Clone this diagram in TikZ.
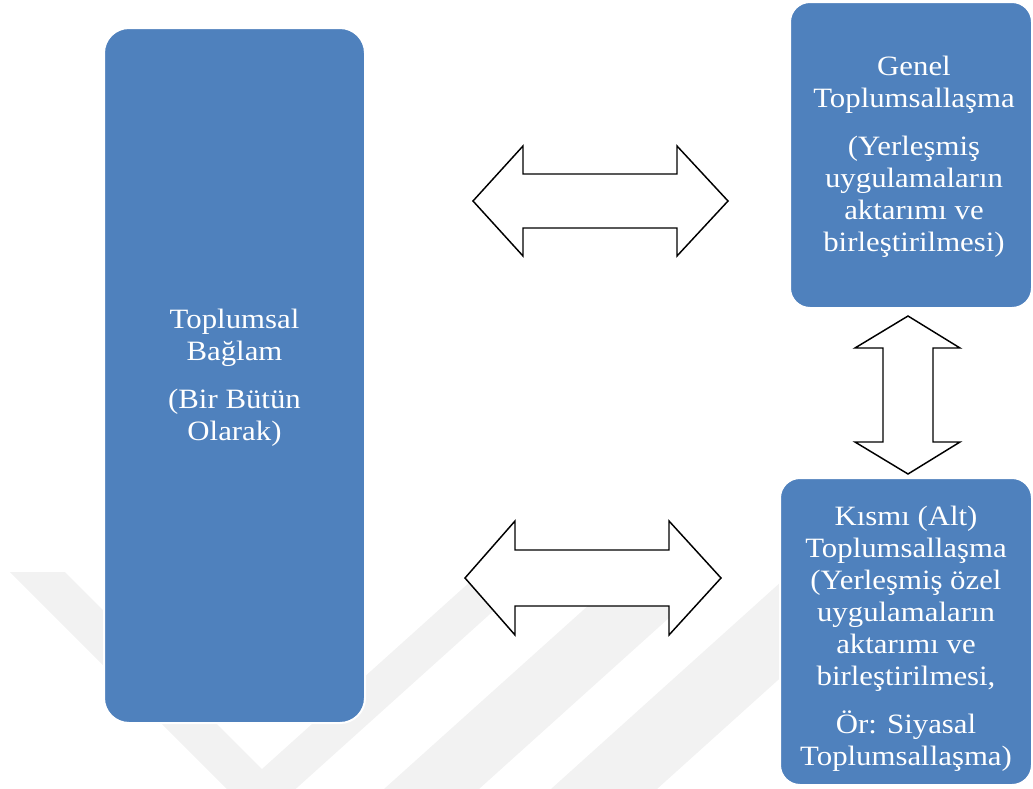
\documentclass[tikz,border=0pt]{standalone}
\usepackage{fontspec}
\setmainfont{Liberation Serif}[FakeStretch=1.1]
\definecolor{boxblue}{HTML}{4F81BD}
\definecolor{wmark}{HTML}{F2F2F2}
\begin{document}
\begin{tikzpicture}[x=0.75pt,y=-0.75pt,
  bluebox/.style={draw=white,line width=1.5pt,fill=boxblue,rounded corners=#1,inner sep=0pt},
  boxtext/.style={text=white,align=center,font=\fontsize{21}{24}\selectfont,inner sep=0pt},
  blockarrow/.style={draw=black,fill=white,line width=1.1pt,line join=miter}]
\useasboundingbox (0,0) rectangle (1033,789);
% faint watermark
\begin{scope}
\clip (0,572) rectangle (1033,789);
\fill[wmark] (10,572) -- (259.5,821.5) -- (536.7,572) -- (481,572) -- (262,769) -- (65,572) -- cycle;
\fill[wmark] (625.6,572) -- (720,572) -- (479,789) -- (384,789) -- cycle;
\fill[wmark] (792,572) -- (898,572) -- (657,789) -- (551,789) -- cycle;
\end{scope}
% boxes
\node[bluebox=18.75pt,minimum width=195.75pt,minimum height=521.25pt] (L) at (234.5,375.5) {};
\node[bluebox=15pt,minimum width=181.5pt,minimum height=229.5pt] (G) at (911,155) {};
\node[bluebox=15pt,minimum width=189pt,minimum height=230.25pt] (K) at (906,631.5) {};
\node[boxtext] (Lt) at (234.5,378) {Toplumsal\\Bağlam\\[12pt](Bir Bütün\\Olarak)};
\node[boxtext] (Gt) at (914,157) {Genel\\Toplumsallaşma\\[12pt](Yerleşmiş\\uygulamaların\\aktarımı ve\\birleştirilmesi)};
\node[boxtext] (Kt) at (906,639) {Kısmı (Alt)\\Toplumsallaşma\\(Yerleşmiş özel\\uygulamaların\\aktarımı ve\\birleştirilmesi,\\[12pt]Ör: Siyasal\\Toplumsallaşma)};
% block arrows
\draw[blockarrow] (473,201) -- (523,146) -- (523,174) -- (677,174) -- (677,146) -- (728,201) -- (677,256) -- (677,228) -- (523,228) -- (523,256) -- cycle;
\draw[blockarrow] (465,578) -- (515,521) -- (515,550) -- (669,550) -- (669,521) -- (721,578) -- (669,635) -- (669,606) -- (515,606) -- (515,635) -- cycle;
\draw[blockarrow] (908,316) -- (960,348) -- (933,348) -- (933,442) -- (960,442) -- (908,474) -- (855,442) -- (883,442) -- (883,348) -- (855,348) -- cycle;
\end{tikzpicture}
\end{document}
